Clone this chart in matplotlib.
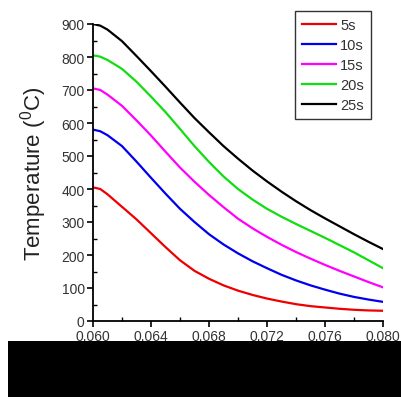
import matplotlib
matplotlib.use("Agg")
import matplotlib.pyplot as plt
from matplotlib.patches import Rectangle
from matplotlib.ticker import MultipleLocator, FormatStrFormatter

plt.rcParams['font.family'] = ['Liberation Sans', 'DejaVu Sans']
plt.rcParams['mathtext.fontset'] = 'custom'
plt.rcParams['mathtext.rm'] = 'Liberation Sans'

# data
x = [0.060, 0.0605, 0.061, 0.062, 0.063, 0.064, 0.065, 0.066, 0.067, 0.068, 0.069, 0.070,
     0.071, 0.072, 0.073, 0.074, 0.075, 0.076, 0.077, 0.078, 0.079, 0.080]
t5 = [405, 400, 384, 346, 308, 266, 224, 184, 152, 128, 108, 92,
      79, 68, 59, 51, 45, 41, 37, 34, 32, 31]
t10 = [580, 575, 563, 530, 483, 434, 386, 340, 300, 263, 232, 205,
       181, 160, 140, 123, 108, 95, 83, 73, 65, 58]
t15 = [705, 700, 686, 652, 608, 562, 513, 465, 422, 382, 345, 310,
       281, 255, 231, 209, 189, 170, 152, 135, 118, 102]
t20 = [805, 801, 791, 764, 725, 680, 633, 582, 530, 482, 438, 400,
       368, 340, 316, 294, 273, 252, 230, 208, 184, 160]
t25 = [900, 895, 883, 848, 803, 757, 710, 662, 615, 572, 530, 492,
       456, 423, 392, 363, 336, 311, 287, 263, 240, 218]

labels = ['5s', '10s', '15s', '20s', '25s']
colors = ['#ee0000', '#0000ee', '#ff00ff', '#11dd11', '#000000']
series = [t5, t10, t15, t20, t25]

fig = plt.figure(figsize=(4.02, 4.02), dpi=100)
ax = fig.add_axes([93 / 402, 80 / 402, 290 / 402, 297 / 402])

for ys, lab, c in zip(series, labels, colors):
    ax.plot(x, ys, color=c, lw=1.6, label=lab)

ax.set_xlim(0.060, 0.080)
ax.set_ylim(0, 900)
ax.xaxis.set_major_locator(MultipleLocator(0.004))
ax.xaxis.set_minor_locator(MultipleLocator(0.002))
ax.yaxis.set_major_locator(MultipleLocator(100))
ax.yaxis.set_minor_locator(MultipleLocator(50))
ax.xaxis.set_major_formatter(FormatStrFormatter('%.3f'))

for s in ['top', 'right']:
    ax.spines[s].set_visible(False)
for s in ['left', 'bottom']:
    ax.spines[s].set_linewidth(1.3)

ax.tick_params(which='major', direction='out', length=4, width=1.2,
               labelsize=10, labelcolor='#333333', pad=2)
ax.tick_params(which='minor', direction='in', length=3, width=1.0)

ax.set_ylabel('Temperature ($^\\mathrm{0}$C)', fontsize=16, color='#222222', labelpad=9)

leg = ax.legend(loc='upper right', bbox_to_anchor=(371 / 402, 1 - 12 / 402),
                bbox_transform=fig.transFigure, fontsize=10.5, frameon=True,
                fancybox=False, edgecolor='black', handlelength=2.3,
                handletextpad=0.3, labelspacing=0.4, borderpad=0.5,
                borderaxespad=0)
leg.get_frame().set_linewidth(1.0)
for txt in leg.get_texts():
    txt.set_color('#333333')

fig.patches.append(Rectangle((8 / 402, 4 / 402), 394 / 402, 56 / 402,
                             transform=fig.transFigure, facecolor='black',
                             edgecolor='none', zorder=10))

fig.savefig('out.png', dpi=100)
